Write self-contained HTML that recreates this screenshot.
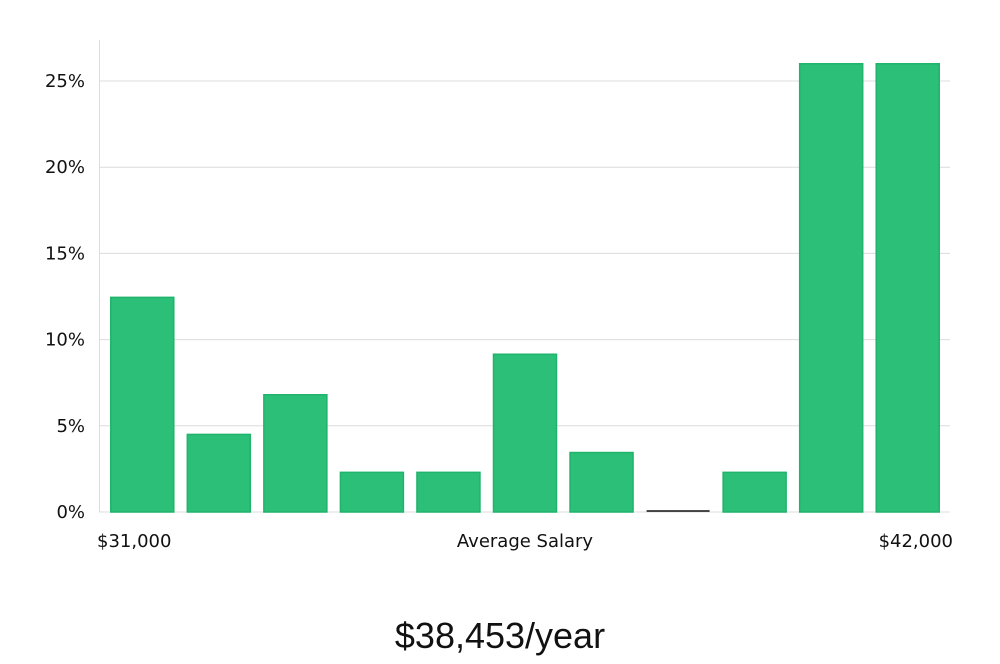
<!DOCTYPE html>
<html><head><meta charset="utf-8"><style>
body{margin:0;background:#fff;width:1000px;height:660px;overflow:hidden;font-family:"DejaVu Sans","Liberation Sans",sans-serif;}
</style></head><body>
<svg width="1000" height="660" id="chart">
<text x="500" y="648" text-anchor="middle" font-size="36" fill="#111" font-family="'Liberation Sans',sans-serif">$38,453/year</text>
</svg>
<script>
const categories=["b1","b2","b3","b4","b5","b6","b7","b8","b9","b10","b11"];
const values=[12.45,4.5,6.8,2.3,2.3,9.15,3.45,0,2.3,26,26];
const yTicks=[0,5,10,15,20,25];
const yTickLabels=["0%","5%","10%","15%","20%","25%"];
const xLabels=["$31,000","Average Salary","$42,000"];
const svg=document.getElementById('chart');
const NS='http://www.w3.org/2000/svg';
const y0=512,pxPer=(512-81)/25;
const y=v=>y0-v*pxPer;
const left=104,right=946,step=(right-left)/categories.length,bw=63;
const x=i=>left+i*step+(step-bw)/2;
function mk(t,a){const e=document.createElementNS(NS,t);for(const k in a)e.setAttribute(k,a[k]);svg.appendChild(e);return e;}
yTicks.forEach((t,i)=>{
 const g=mk('line',{x1:99,x2:950,y1:y(t),y2:y(t),stroke:'#dcdcdc','stroke-width':1});
 
 
 const l=mk('text',{x:85,y:y(t)+6,'text-anchor':'end','font-size':18,fill:'#111'});
 l.textContent=yTickLabels[i];
 
 
});
const ax=mk('line',{x1:99.5,x2:99.5,y1:40,y2:512,stroke:'#dcdcdc'});


values.forEach((v,i)=>{
 if(v===0){
  const z=mk('line',{x1:x(i),x2:x(i)+bw,y1:511,y2:511,stroke:'#111','stroke-width':1.5});
  
  
  return;
 }
 const r=mk('rect',{x:x(i),y:y(v),width:bw,height:y0-y(v),fill:'#2bbf78',stroke:'#1fb36b','stroke-width':1.5});
 
 
});
const xl=[[97,'start'],[525,'middle'],[953,'end']];
xLabels.forEach((s,i)=>{
 const t=mk('text',{x:xl[i][0],y:547,'text-anchor':xl[i][1],'font-size':18,fill:'#111'});
 t.textContent=s;
 
 
});
</script>
</body></html>
